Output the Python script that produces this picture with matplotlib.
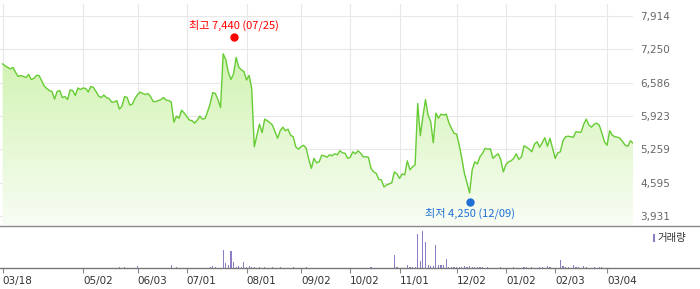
import numpy as np
import matplotlib
matplotlib.use("Agg")
from matplotlib import pyplot
from matplotlib import patches
from matplotlib import transforms
from matplotlib.colors import LinearSegmentedColormap

# daily close, 03/18 .. 03/14
price = [6960, 6920, 6890, 6860, 6890, 6790, 6710, 6730, 6710, 6690,
         6750, 6650, 6670, 6730, 6730, 6630, 6520, 6470, 6430, 6410,
         6260, 6410, 6430, 6290, 6310, 6250, 6440, 6430, 6330, 6480,
         6450, 6480, 6470, 6400, 6510, 6490, 6410, 6320, 6290, 6340,
         6290, 6270, 6200, 6200, 6230, 6060, 6120, 6310, 6290, 6140,
         6160, 6270, 6350, 6400, 6370, 6350, 6370, 6310, 6210, 6210,
         6230, 6250, 6290, 6240, 6230, 6200, 5800, 5920, 5880, 6040,
         5980, 5910, 5840, 5830, 5780, 5840, 5920, 5860, 5870, 6010,
         6170, 6390, 6370, 6250, 6090, 7160, 7050, 6790, 6650, 6760,
         7090, 6900, 6840, 6810, 6640, 6730, 6470, 5310, 5540, 5760,
         5590, 5860, 5830, 5790, 5740, 5610, 5480, 5630, 5700, 5630,
         5660, 5540, 5510, 5310, 5260, 5310, 5340, 5280, 5060, 4880,
         5080, 4990, 5010, 5140, 5130, 5100, 5150, 5130, 5170, 5150,
         5230, 5190, 5180, 5080, 5100, 5210, 5170, 5230, 5180, 5110,
         5110, 5100, 4880, 4810, 4780, 4660, 4650, 4510, 4550, 4570,
         4590, 4810, 4770, 4680, 4770, 4750, 5030, 4850, 4910, 4950,
         6170, 5530, 5910, 6250, 5940, 5810, 5390, 5980, 5880, 5960,
         5940, 5960, 5790, 5680, 5580, 5560, 5340, 5080, 4780, 4590,
         4390, 4850, 5010, 4970, 5110, 5180, 5280, 5260, 5270, 5080,
         5130, 5170, 5060, 4810, 4950, 5010, 5030, 5080, 5170, 5060,
         5110, 5330, 5300, 5260, 5210, 5360, 5410, 5300, 5390, 5490,
         5320, 5480, 5280, 5080, 5190, 5210, 5430, 5510, 5520, 5510,
         5500, 5610, 5600, 5600, 5760, 5860, 5740, 5700, 5760, 5780,
         5740, 5580, 5410, 5340, 5630, 5540, 5510, 5500, 5480, 5410,
         5340, 5320, 5430, 5380]

tick_idx = [0, 31, 52, 71, 94, 115, 134, 153, 175, 194, 213, 233]
tick_labels = ['03/18', '05/02', '06/03', '07/01', '08/01', '09/02',
               '10/02', '11/01', '12/02', '01/02', '02/03', '03/04']
price_ticks = [3931, 4595, 5259, 5923, 6586, 7250, 7914]

high_idx, high_val, high_date = 89, 7440, '07/25'
low_idx, low_val, low_date = 180, 4250, '12/09'

# volume (thousand shares), only days with a visible bar
vol_idx = [45, 47, 52, 65, 67, 80, 81, 82, 85, 86, 87, 88, 89, 90, 91, 92, 93, 94,
           95, 96, 97, 99, 101, 104, 107, 112, 117,
           142, 151, 152, 156, 157, 158, 159, 160, 161, 162, 163, 164, 165, 166,
           167, 168, 169, 170, 171, 172, 173, 174, 175, 176, 177, 178, 179, 180,
           181, 182, 183, 184, 185, 187, 192, 197, 201, 202, 204, 207, 208, 210,
           211, 215, 216, 217, 218, 220, 221, 222, 224, 225, 228, 230, 231]
vol_val = [25, 25, 45, 55, 25, 25, 45, 25, 365, 105, 55, 345, 125, 25, 45, 25, 125, 25,
           45, 25, 25, 25, 25, 25, 25, 25, 25,
           25, 255, 25, 65, 25, 25, 25, 685, 145, 735, 515, 65, 45, 45,
           465, 65, 65, 65, 185, 25, 25, 25, 25, 25, 25, 45, 25, 45,
           25, 25, 25, 25, 25, 25, 25, 25, 25, 25, 25, 25, 25, 45,
           25, 165, 45, 25, 25, 65, 25, 25, 45, 25, 25, 25, 25]

kr_font = ['Noto Sans CJK KR', 'DejaVu Sans']

W, H = 700, 289
fig = pyplot.figure(figsize=(W / 100, H / 100), dpi=100)

px_per_day = 2.594
x_left = -2.67 / px_per_day

# ---- price panel ----
ax = fig.add_axes([0, 1 - 225 / H, 633 / W, (225 - 4) / H])
step = (price_ticks[-1] - price_ticks[0]) / 6 / 33.33   # price per pixel
y_bot = price_ticks[0] - 9 * step
y_top = price_ticks[-1] + 12 * step
x_right = x_left + 633 / px_per_day

x = np.arange(len(price))
poly = ax.fill_between(x, price, y_bot, color='none', linewidth=0)
grad = np.linspace(0, 1, 256).reshape(-1, 1)
cmap = LinearSegmentedColormap.from_list('fillg', ['#f8fdf4', '#c6f09e'])
img = ax.imshow(grad, extent=[x_left, x_right, y_bot, y_top], origin='lower',
                aspect='auto', cmap=cmap, zorder=1, interpolation='bilinear')
img.set_clip_path(poly.get_paths()[0], transform=ax.transData)
ax.plot(x, price, color='#66cc33', linewidth=1.0, zorder=3)

ax.set_xlim(x_left, x_right)
ax.set_ylim(y_bot, y_top)
ax.set_xticks(tick_idx)
ax.set_yticks(price_ticks)
ax.set_yticklabels([f'{v:,}' for v in price_ticks])
ax.grid(color='#e8e8e8', linewidth=0.8, zorder=0)
ax.set_axisbelow(True)
ax.yaxis.tick_right()
ax.tick_params(axis='x', length=0, labelbottom=False)
ax.tick_params(axis='y', length=0, pad=5, labelsize=7.5, labelcolor='#666666')
for s in ax.spines.values():
    s.set_visible(False)

# high / low markers, nudged a few pixels off the line
up = transforms.offset_copy(ax.transData, fig=fig, y=3, units='dots')
down = transforms.offset_copy(ax.transData, fig=fig, y=-2, units='dots')
ax.plot(high_idx, high_val, 'o', color='#ff0000', ms=5, transform=up, zorder=5, clip_on=False)
ax.plot(low_idx, low_val, 'o', color='#1f6fd6', ms=5, transform=down, zorder=5, clip_on=False)
ax.annotate(f'최고 {high_val:,} ({high_date})', (high_idx, high_val), xytext=(0, 10.5),
            textcoords='offset points', ha='center', va='center', fontsize=8,
            color='#ff0000', family=kr_font)
ax.annotate(f'최저 {low_val:,} ({low_date})', (low_idx, low_val), xytext=(0, -9.5),
            textcoords='offset points', ha='center', va='center', fontsize=8,
            color='#1f6fd6', family=kr_font)

# ---- volume panel ----
ax_v = fig.add_axes([0, 1 - 268 / H, 1, (268 - 225.5) / H])
ax_v.bar(vol_idx, vol_val, width=0.45, color='#8e7cc6', linewidth=0)
ax_v.set_xlim(x_left, x_left + W / px_per_day)
ax_v.set_ylim(0, 42.5 * 20)
ax_v.set_yticks([])
ax_v.set_xticks(tick_idx)
ax_v.set_xticklabels(tick_labels)
for lbl in ax_v.get_xticklabels():
    lbl.set_horizontalalignment('left')
ax_v.tick_params(axis='x', direction='out', length=3.3, width=0.8, color='#888888',
                 pad=2.5, labelsize=7.5, labelcolor='#333333')
ax_v.spines['left'].set_visible(False)
ax_v.spines['right'].set_visible(False)
ax_v.spines['top'].set_color('#888888')
ax_v.spines['bottom'].set_color('#777777')
ax_v.spines['top'].set_linewidth(1.0)
ax_v.spines['bottom'].set_linewidth(1.0)

ax_v.add_patch(patches.Rectangle((652.7 / W, 0.62), 2.5 / W, 0.18, transform=ax_v.transAxes,
                                 facecolor='#8e7cc6', linewidth=0, clip_on=False))
ax_v.text(657 / W, 0.71, '거래량', transform=ax_v.transAxes, ha='left', va='center',
          fontsize=7.5, color='#333333', family=kr_font)

fig.savefig('out.png', dpi=100)
